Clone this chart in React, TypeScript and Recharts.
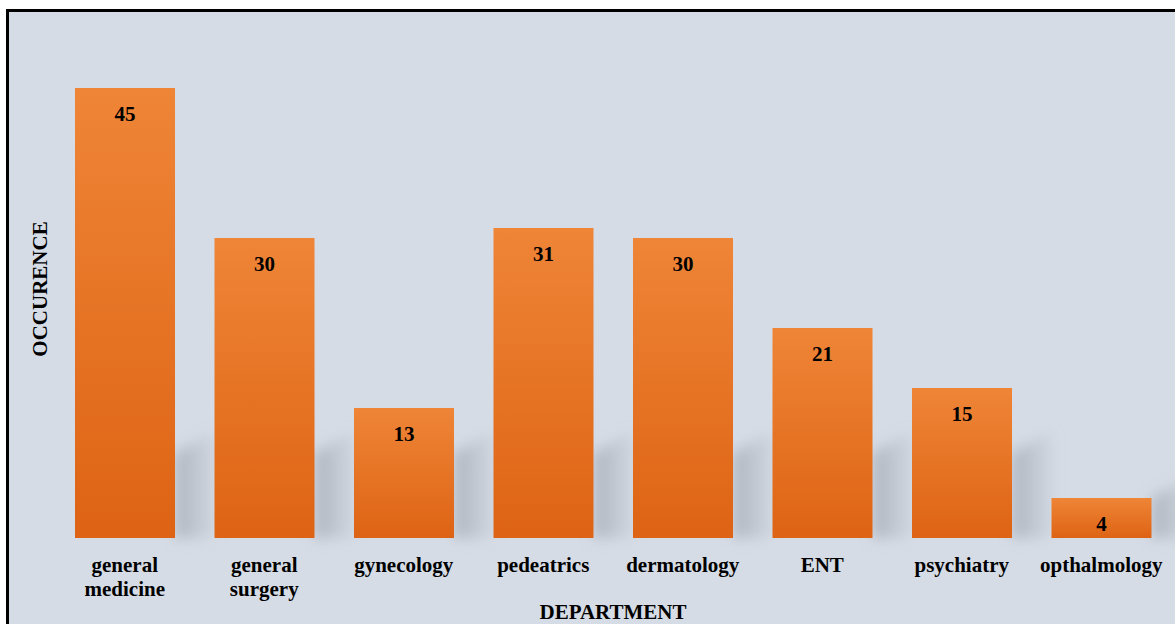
import React from "react";
import { BarChart, Bar, XAxis, YAxis, LabelList, Label } from "recharts";

const departments = [
  "general medicine",
  "general surgery",
  "gynecology",
  "pedeatrics",
  "dermatology",
  "ENT",
  "psychiatry",
  "opthalmology",
];
const occurrences = [45, 30, 13, 31, 30, 21, 15, 4];

const data = departments.map((name, i) => ({ name, value: occurrences[i] }));

const FONT = '"Liberation Serif", "Times New Roman", serif';

const DeptTick = (props: any) => {
  const { x, y, payload } = props;
  const lines = String(payload.value).split(" ");
  return (
    <text
      x={x}
      y={y}
      textAnchor="middle"
      fontFamily={FONT}
      fontWeight="bold"
      fontSize={21}
      fill="#000"
    >
      {lines.map((l, i) => (
        <tspan key={i} x={x} dy={i === 0 ? 26 : 24}>
          {l}
        </tspan>
      ))}
    </text>
  );
};

const ShadowBar = (props: any) => {
  const { x, y, width, height } = props;
  const bottom = y + height;
  const right = x + width;
  const h = Math.min(height, 85);
  return (
    <g>
      <polygon
        points={`${right},${bottom} ${right},${bottom - h} ${right + 40},${bottom - h - 22} ${right + 40},${bottom}`}
        fill="url(#shadowGrad)"
        filter="url(#blurShadow)"
      />
      <rect x={x} y={y} width={width} height={height} fill="url(#barGrad)" />
    </g>
  );
};

export default function App() {
  return (
    <div style={{ position: "absolute", left: 0, top: 0, width: 1175, height: 624, overflow: "hidden", background: "#fff" }}>
      <div
        style={{
          position: "absolute",
          left: 6,
          top: 9,
          width: 1180,
          height: 630,
          border: "3px solid #000",
          background: "#d6dce5",
          boxSizing: "border-box",
        }}
      />
      <div style={{ position: "absolute", left: 0, top: 0 }}>
        <BarChart
          width={1175}
          height={624}
          data={data}
          margin={{ top: 38, right: 4, left: 0, bottom: 0 }}
          barSize={100}
        >
          <defs>
            <linearGradient id="barGrad" x1="0" y1="0" x2="0" y2="1">
              <stop offset="0%" stopColor="#ef8537" />
              <stop offset="100%" stopColor="#de6314" />
            </linearGradient>
            <linearGradient id="shadowGrad" x1="0" y1="0" x2="1" y2="0">
              <stop offset="0%" stopColor="#8e96a0" stopOpacity={0.6} />
              <stop offset="100%" stopColor="#a9b0b9" stopOpacity={0.15} />
            </linearGradient>
            <filter id="blurShadow" x="-50%" y="-50%" width="200%" height="200%">
              <feGaussianBlur stdDeviation="7" />
            </filter>
          </defs>
          <XAxis
            dataKey="name"
            height={86}
            axisLine={false}
            tickLine={false}
            interval={0}
            tick={<DeptTick />}
          >
            <Label
              value="DEPARTMENT"
              position="insideBottom"
              offset={5}
              style={{ fontFamily: FONT, fontWeight: "bold", fontSize: 21, fill: "#000" }}
            />
          </XAxis>
          <YAxis
            domain={[0, 50]}
            width={55}
            axisLine={false}
            tickLine={false}
            tick={false}
          >
            <Label
              content={() => (
                <text
                  x={47}
                  y={289}
                  transform="rotate(-90 47 289)"
                  textAnchor="middle"
                  fontFamily={FONT}
                  fontWeight="bold"
                  fontSize={21}
                  fill="#000"
                >
                  OCCURENCE
                </text>
              )}
            />
          </YAxis>
          <Bar dataKey="value" shape={<ShadowBar />} isAnimationActive={false}>
            <LabelList
              dataKey="value"
              position="insideTop"
              offset={18}
              style={{ fontFamily: FONT, fontWeight: "bold", fontSize: 21, fill: "#000" }}
            />
          </Bar>
        </BarChart>
      </div>
    </div>
  );
}
